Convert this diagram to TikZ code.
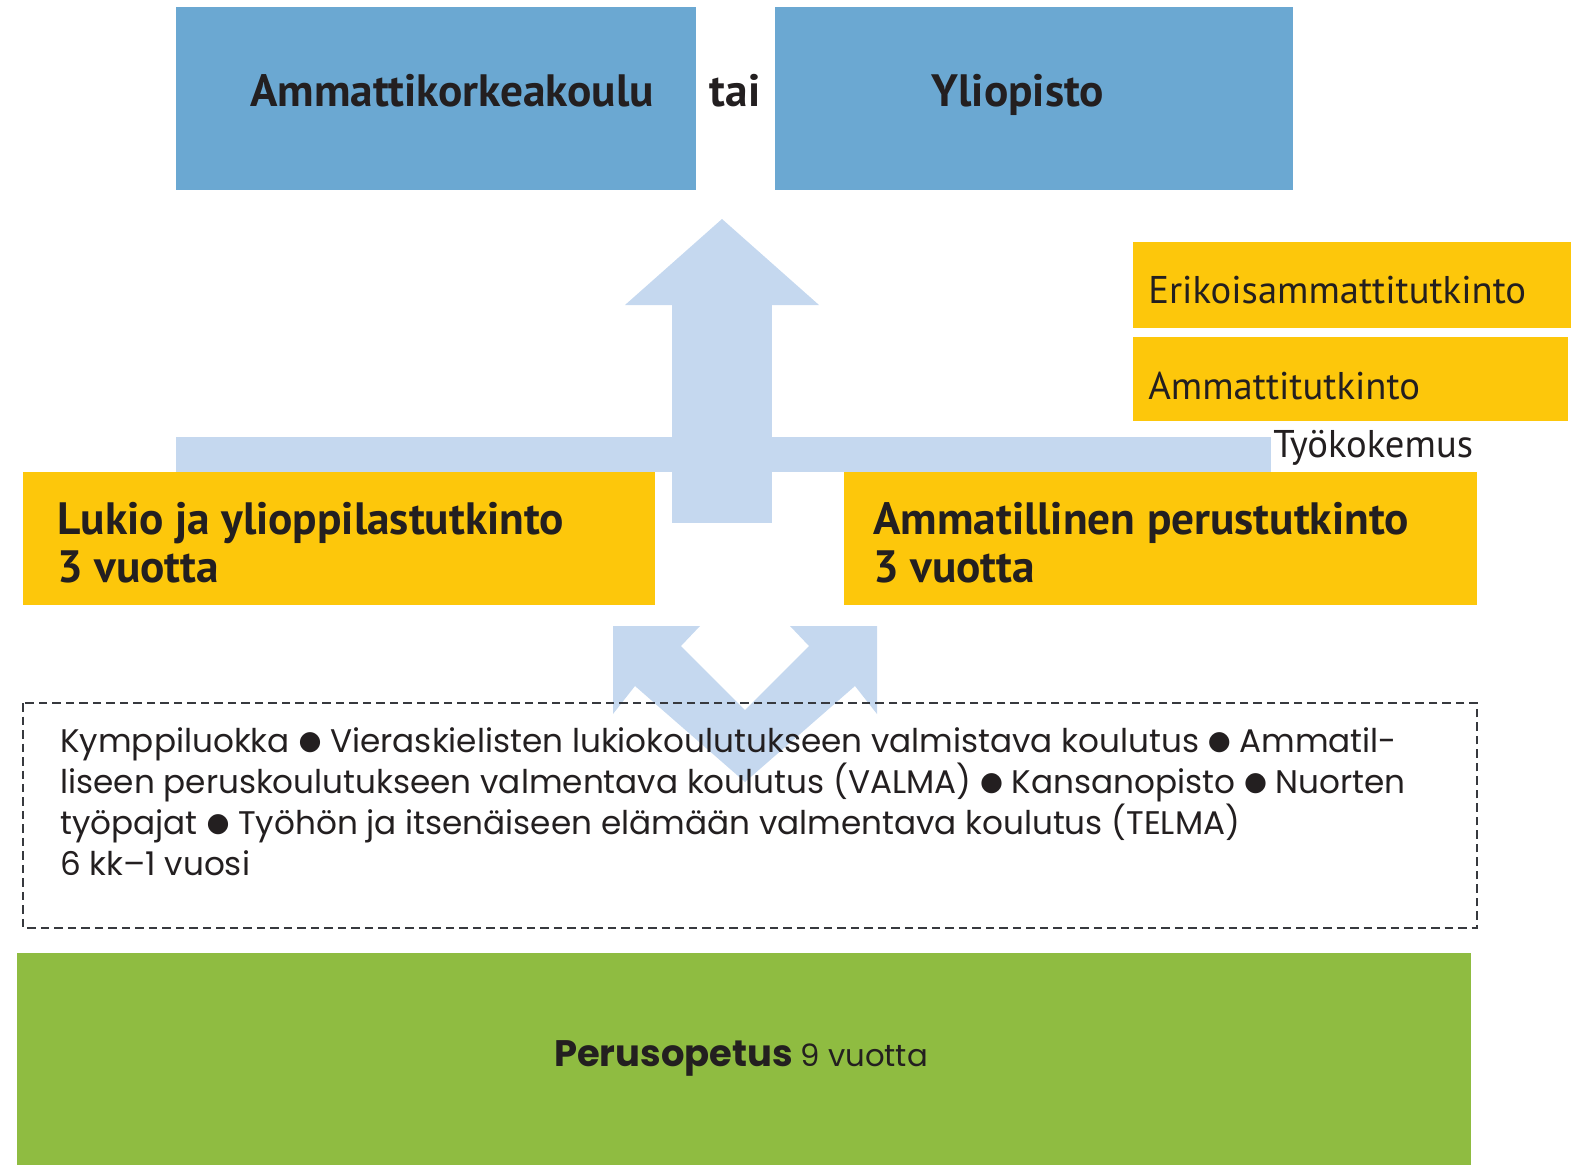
\documentclass[tikz,border=0pt]{standalone}
\usepackage{fontspec}
\setmainfont{PT Sans}
\newfontfamily\roundfont{Poppins}
\newfontfamily\symfont{DejaVu Sans}
\usetikzlibrary{positioning}

\definecolor{amkblue}{RGB}{107,168,210}
\definecolor{arrowblue}{RGB}{197,216,239}
\definecolor{tutkyellow}{RGB}{253,199,11}
\definecolor{perusgreen}{RGB}{143,188,65}
\definecolor{textdark}{RGB}{35,31,32}
\definecolor{dashgrey}{RGB}{55,57,62}

\newcommand{\pallo}{\raisebox{1.6pt}{\symfont\fontsize{15}{15}\selectfont ●}}

\begin{document}
\begin{tikzpicture}[x=0.02cm, y=-0.02cm,
	every node/.style={text=textdark, inner sep=0},
	bigtext/.style={font=\fontsize{25.8}{27.2}\selectfont\bfseries, align=left},
	smalltext/.style={font=\fontsize{22}{26}\selectfont},
	listtext/.style={font=\roundfont\fontsize{18.6}{23.3}\selectfont, align=left},
	dashbox/.style={draw=dashgrey, line width=1.6pt, dash pattern=on 0.17cm off 0.1cm}]

	\useasboundingbox (0,0) rectangle (1576,1164);

	% nuolet
	\fill[arrowblue] (176,437) rectangle (1271,472);
	\fill[arrowblue] (672,300) rectangle (772,523);
	\fill[arrowblue] (625,305) -- (722,219) -- (819,305) -- cycle;
	\fill[arrowblue] (613,626) -- (700,626) -- (681,646) -- (745,710) -- (745,782) -- (635,686) -- (613,714) -- cycle;
	\fill[arrowblue] (877,626) -- (790,626) -- (809,646) -- (745,710) -- (745,782) -- (855,686) -- (877,714) -- cycle;

	% korkeakoulut
	\fill[amkblue] (176,7) rectangle (696,190);
	\fill[amkblue] (775,7) rectangle (1293,190);
	\node[bigtext, anchor=base] (amk) at (452,106) {Ammattikorkeakoulu};
	\node[bigtext, anchor=base] (tai) at (735,106) {tai};
	\node[bigtext, anchor=base] (yo) at (1018,106) {Yliopisto};

	% tutkinnot
	\fill[tutkyellow] (1133,242) rectangle (1571,328);
	\fill[tutkyellow] (1133,337) rectangle (1568,421);
	\node[smalltext, anchor=base west] (erik) at (1148,303) {Erikoisammattitutkinto};
	\node[smalltext, anchor=base west] (amt) at (1148,399) {Ammattitutkinto};
	\node[smalltext, anchor=base west] (tyo) at (1273,457) {Työkokemus};

	\fill[tutkyellow] (23,472) rectangle (655,605);
	\fill[tutkyellow] (844,472) rectangle (1477,605);
	\node[bigtext, anchor=base west] (lukio) at (57,582) {Lukio ja ylioppilastutkinto\\3 vuotta};
	\node[bigtext, anchor=base west] (ampt) at (873,582) {Ammatillinen perustutkinto\\3 vuotta};

	% valmistava koulutus
	\draw[dashbox] (23,703) rectangle (1477,928);
	\node[listtext, anchor=base west] (valma) at (60,875) {Kymppiluokka \pallo{} Vieraskielisten lukiokoulutukseen valmistava koulutus \pallo{} Ammatil-\\liseen peruskoulutukseen valmentava koulutus (VALMA) \pallo{} Kansanopisto \pallo{} Nuorten\\työpajat \pallo{} Työhön ja itsenäiseen elämään valmentava koulutus (TELMA)\\6 kk–1 vuosi};

	% perusopetus
	\fill[perusgreen] (17,953) rectangle (1471,1170);
	\node[anchor=base] (perus) at (741,1066) {\roundfont\fontsize{21}{25}\selectfont\bfseries Perusopetus {\fontsize{17.5}{20}\selectfont\mdseries 9 vuotta}};

\end{tikzpicture}
\end{document}
